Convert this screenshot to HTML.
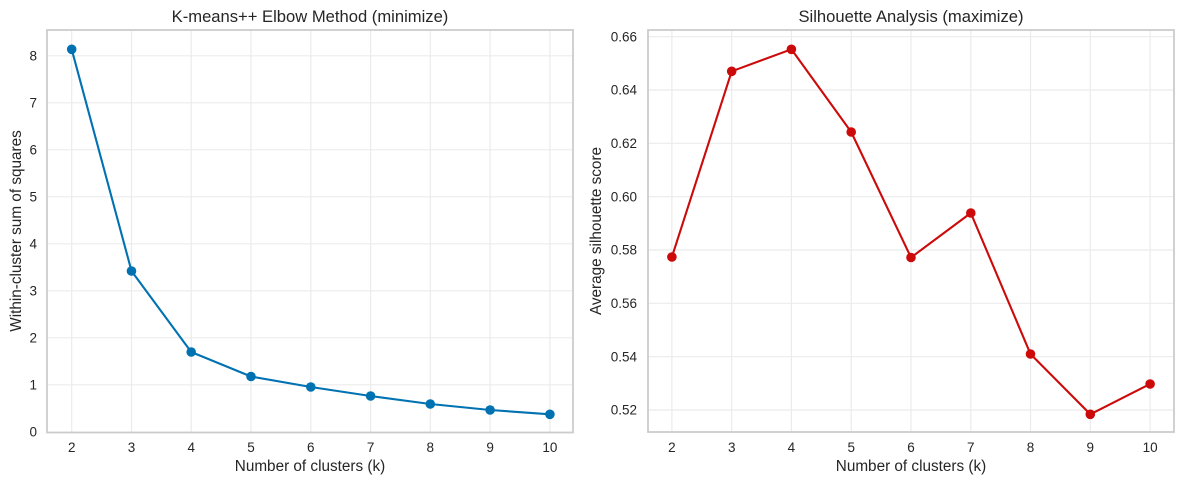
<!DOCTYPE html>
<html>
<head>
<meta charset="utf-8">
<style>
  html,body{margin:0;padding:0;background:#fff;}
  svg{display:block;}
  text{font-family:"Liberation Sans","DejaVu Sans",sans-serif;fill:#262626;}
</style>
</head>
<body>
<svg width="1183" height="484" viewBox="0 0 1183 484" xmlns="http://www.w3.org/2000/svg">
  <rect x="0" y="0" width="1183" height="484" fill="#fff"/>

  <!-- ===== LEFT PANEL ===== -->
  <g stroke="#ebebeb" stroke-width="1.2">
    <line x1="71.7" y1="30" x2="71.7" y2="432"/>
    <line x1="131.5" y1="30" x2="131.5" y2="432"/>
    <line x1="191.2" y1="30" x2="191.2" y2="432"/>
    <line x1="251.0" y1="30" x2="251.0" y2="432"/>
    <line x1="310.8" y1="30" x2="310.8" y2="432"/>
    <line x1="370.6" y1="30" x2="370.6" y2="432"/>
    <line x1="430.3" y1="30" x2="430.3" y2="432"/>
    <line x1="490.1" y1="30" x2="490.1" y2="432"/>
    <line x1="549.9" y1="30" x2="549.9" y2="432"/>
    <line x1="47" y1="55.8" x2="573" y2="55.8"/>
    <line x1="47" y1="102.8" x2="573" y2="102.8"/>
    <line x1="47" y1="149.8" x2="573" y2="149.8"/>
    <line x1="47" y1="196.8" x2="573" y2="196.8"/>
    <line x1="47" y1="243.8" x2="573" y2="243.8"/>
    <line x1="47" y1="290.8" x2="573" y2="290.8"/>
    <line x1="47" y1="337.8" x2="573" y2="337.8"/>
    <line x1="47" y1="384.8" x2="573" y2="384.8"/>
  </g>
  <rect x="47" y="30" width="526" height="402.5" fill="none" stroke="#cccccc" stroke-width="1.8"/>

  <polyline fill="none" stroke="#0072B2" stroke-width="2.1" stroke-linejoin="round"
    points="71.7,49.3 131.5,271 191.2,352 251.0,376.5 310.8,387 370.6,396 430.3,404 490.1,410 549.9,414.3"/>
  <g fill="#0072B2">
    <circle cx="71.7" cy="49.3" r="4.8"/>
    <circle cx="131.5" cy="271" r="4.8"/>
    <circle cx="191.2" cy="352" r="4.8"/>
    <circle cx="251.0" cy="376.5" r="4.8"/>
    <circle cx="310.8" cy="387" r="4.8"/>
    <circle cx="370.6" cy="396" r="4.8"/>
    <circle cx="430.3" cy="404" r="4.8"/>
    <circle cx="490.1" cy="410" r="4.8"/>
    <circle cx="549.9" cy="414.3" r="4.8"/>
  </g>

  <g font-size="13.5" text-anchor="end">
    <text x="37" y="60.5">8</text>
    <text x="37" y="107.5">7</text>
    <text x="37" y="154.5">6</text>
    <text x="37" y="201.5">5</text>
    <text x="37" y="248.5">4</text>
    <text x="37" y="295.5">3</text>
    <text x="37" y="342.5">2</text>
    <text x="37" y="389.5">1</text>
    <text x="37" y="436.5">0</text>
  </g>
  <g font-size="13.5" text-anchor="middle">
    <text x="71.7" y="452">2</text>
    <text x="131.5" y="452">3</text>
    <text x="191.2" y="452">4</text>
    <text x="251.0" y="452">5</text>
    <text x="310.8" y="452">6</text>
    <text x="370.6" y="452">7</text>
    <text x="430.3" y="452">8</text>
    <text x="490.1" y="452">9</text>
    <text x="549.9" y="452">10</text>
  </g>
  <text x="310" y="471" font-size="15.3" text-anchor="middle">Number of clusters (k)</text>
  <text x="21" y="231" font-size="15.3" text-anchor="middle" transform="rotate(-90 21 231)">Within-cluster sum of squares</text>
  <text x="310" y="22" font-size="16.6" text-anchor="middle">K-means++ Elbow Method (minimize)</text>

  <!-- ===== RIGHT PANEL ===== -->
  <g stroke="#ebebeb" stroke-width="1.2">
    <line x1="671.9" y1="30" x2="671.9" y2="432"/>
    <line x1="731.7" y1="30" x2="731.7" y2="432"/>
    <line x1="791.4" y1="30" x2="791.4" y2="432"/>
    <line x1="851.2" y1="30" x2="851.2" y2="432"/>
    <line x1="911.0" y1="30" x2="911.0" y2="432"/>
    <line x1="970.8" y1="30" x2="970.8" y2="432"/>
    <line x1="1030.5" y1="30" x2="1030.5" y2="432"/>
    <line x1="1090.3" y1="30" x2="1090.3" y2="432"/>
    <line x1="1150.1" y1="30" x2="1150.1" y2="432"/>
    <line x1="648" y1="36.7" x2="1174" y2="36.7"/>
    <line x1="648" y1="90" x2="1174" y2="90"/>
    <line x1="648" y1="143.3" x2="1174" y2="143.3"/>
    <line x1="648" y1="196.7" x2="1174" y2="196.7"/>
    <line x1="648" y1="250" x2="1174" y2="250"/>
    <line x1="648" y1="303.3" x2="1174" y2="303.3"/>
    <line x1="648" y1="356.7" x2="1174" y2="356.7"/>
    <line x1="648" y1="410" x2="1174" y2="410"/>
  </g>
  <rect x="648" y="30" width="526" height="402" fill="none" stroke="#cccccc" stroke-width="1.8"/>

  <polyline fill="none" stroke="#CC0A0A" stroke-width="2.1" stroke-linejoin="round"
    points="671.9,257 731.7,71.3 791.4,49.3 851.2,132 911.0,257.5 970.8,213 1030.5,354 1090.3,414.3 1150.1,384"/>
  <g fill="#CC0A0A">
    <circle cx="671.9" cy="257" r="4.8"/>
    <circle cx="731.7" cy="71.3" r="4.8"/>
    <circle cx="791.4" cy="49.3" r="4.8"/>
    <circle cx="851.2" cy="132" r="4.8"/>
    <circle cx="911.0" cy="257.5" r="4.8"/>
    <circle cx="970.8" cy="213" r="4.8"/>
    <circle cx="1030.5" cy="354" r="4.8"/>
    <circle cx="1090.3" cy="414.3" r="4.8"/>
    <circle cx="1150.1" cy="384" r="4.8"/>
  </g>

  <g font-size="13.5" text-anchor="end">
    <text x="637" y="41.4">0.66</text>
    <text x="637" y="94.7">0.64</text>
    <text x="637" y="148">0.62</text>
    <text x="637" y="201.4">0.60</text>
    <text x="637" y="254.7">0.58</text>
    <text x="637" y="308">0.56</text>
    <text x="637" y="361.4">0.54</text>
    <text x="637" y="414.7">0.52</text>
  </g>
  <g font-size="13.5" text-anchor="middle">
    <text x="671.9" y="452">2</text>
    <text x="731.7" y="452">3</text>
    <text x="791.4" y="452">4</text>
    <text x="851.2" y="452">5</text>
    <text x="911.0" y="452">6</text>
    <text x="970.8" y="452">7</text>
    <text x="1030.5" y="452">8</text>
    <text x="1090.3" y="452">9</text>
    <text x="1150.1" y="452">10</text>
  </g>
  <text x="911" y="471" font-size="15.3" text-anchor="middle">Number of clusters (k)</text>
  <text x="601" y="231" font-size="15.3" text-anchor="middle" transform="rotate(-90 601 231)">Average silhouette score</text>
  <text x="911" y="22" font-size="16.6" text-anchor="middle">Silhouette Analysis (maximize)</text>
</svg>
</body>
</html>
